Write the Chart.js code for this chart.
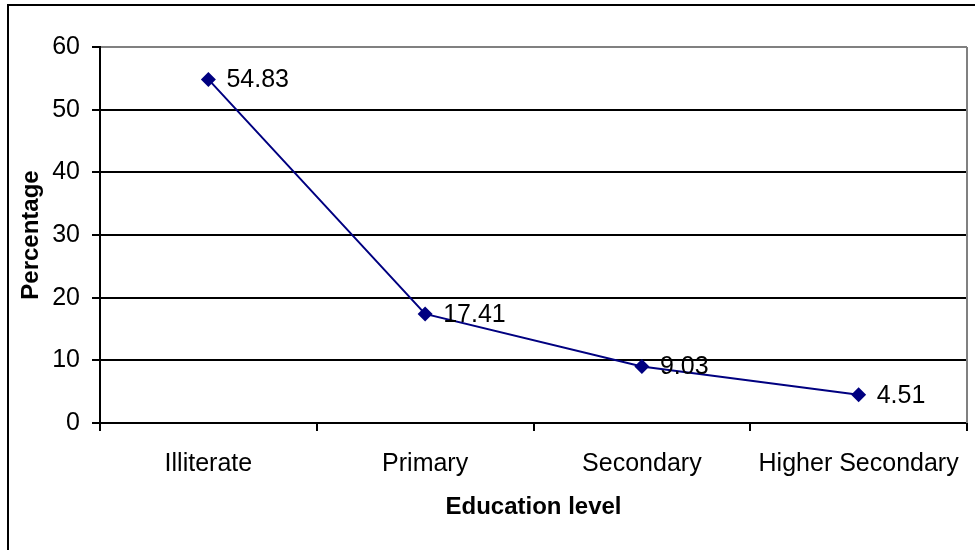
<!DOCTYPE html>
<html>
<head>
<meta charset="utf-8">
<script src="https://cdn.jsdelivr.net/npm/chart.js@4.4.1/dist/chart.umd.min.js"></script>
<style>
    html, body { margin: 0; padding: 0; background: #fff; }
    #wrap { width: 975px; height: 550px; position: relative; }
</style>
</head>
<body>
<div id="wrap"><canvas id="eduChart" width="975" height="550"></canvas></div>
<script>
const levels = ['Illiterate', 'Primary', 'Secondary', 'Higher Secondary'];
const percentages = [54.83, 17.41, 9.03, 4.51];
const yTicks = [0, 10, 20, 30, 40, 50, 60];

const FONT = "'Liberation Sans', Arial, sans-serif";

// outer frame plus the grey right edge of the plot area
const framePlugin = {
    id: 'frame',
    beforeDatasetsDraw(chart) {
        const { ctx, chartArea } = chart;
        ctx.save();
        ctx.strokeStyle = '#808080';
        ctx.lineWidth = 2;
        ctx.beginPath();
        ctx.moveTo(chartArea.right, chartArea.top);
        ctx.lineTo(chartArea.right, chartArea.bottom);
        ctx.stroke();
        ctx.restore();
    },
    afterDraw(chart) {
        const { ctx } = chart;
        ctx.save();
        ctx.strokeStyle = '#000';
        ctx.lineWidth = 2;
        ctx.strokeRect(8, 5, 1200, 1200);
        ctx.restore();
    }
};

// value labels to the right of each point
const valueLabels = {
    id: 'valueLabels',
    afterDatasetsDraw(chart) {
        const { ctx } = chart;
        const meta = chart.getDatasetMeta(0);
        ctx.save();
        ctx.font = `25px ${FONT}`;
        ctx.fillStyle = '#000';
        ctx.textAlign = 'left';
        ctx.textBaseline = 'middle';
        meta.data.forEach((pt, i) => {
            ctx.fillText(percentages[i].toFixed(2), pt.x + 18, pt.y + 1);
        });
        ctx.restore();
    }
};

new Chart(document.getElementById('eduChart'), {
    type: 'line',
    data: {
        labels: levels,
        datasets: [{
            data: percentages,
            borderColor: '#000080',
            backgroundColor: '#000080',
            borderWidth: 2,
            pointStyle: 'rectRot',
            pointRadius: 7.5,
            pointHoverRadius: 7.5,
            pointBorderWidth: 0,
            tension: 0
        }]
    },
    options: {
        responsive: false,
        animation: false,
        layout: { padding: { top: 47, right: 8, left: 0, bottom: 0 } },
        plugins: {
            legend: { display: false },
            tooltip: { enabled: false }
        },
        scales: {
            x: {
                offset: true,
                grid: {
                    offset: true,
                    drawOnChartArea: false,
                    drawTicks: true,
                    tickLength: 8,
                    color: '#000',
                    lineWidth: 2
                },
                border: { color: '#000', width: 2 },
                ticks: {
                    color: '#000',
                    padding: 18,
                    maxRotation: 0,
                    font: { family: FONT, size: 25 }
                },
                title: {
                    display: true,
                    text: 'Education level',
                    color: '#000',
                    font: { family: FONT, size: 24, weight: 'bold' },
                    padding: { top: 0, bottom: 28 }
                },
                afterFit(scale) {
                    scale.height = 127;
                    scale.paddingLeft = 0;
                    scale.paddingRight = 0;
                }
            },
            y: {
                min: 0,
                max: 60,
                afterBuildTicks(scale) {
                    scale.ticks = yTicks.map(v => ({ value: v }));
                },
                grid: {
                    color: ctx => ctx.tick && ctx.tick.value === 60 ? '#808080' : '#000',
                    lineWidth: 2,
                    tickLength: 8,
                    tickColor: '#000'
                },
                border: { color: '#000', width: 2 },
                ticks: {
                    color: '#000',
                    padding: 12,
                    font: { family: FONT, size: 25 }
                },
                title: {
                    display: true,
                    text: 'Percentage',
                    color: '#000',
                    font: { family: FONT, size: 24, weight: 'bold' },
                    padding: { top: 17, bottom: 0 }
                },
                afterFit(scale) { scale.width = 100; }
            }
        }
    },
    plugins: [framePlugin, valueLabels]
});
</script>
</body>
</html>
